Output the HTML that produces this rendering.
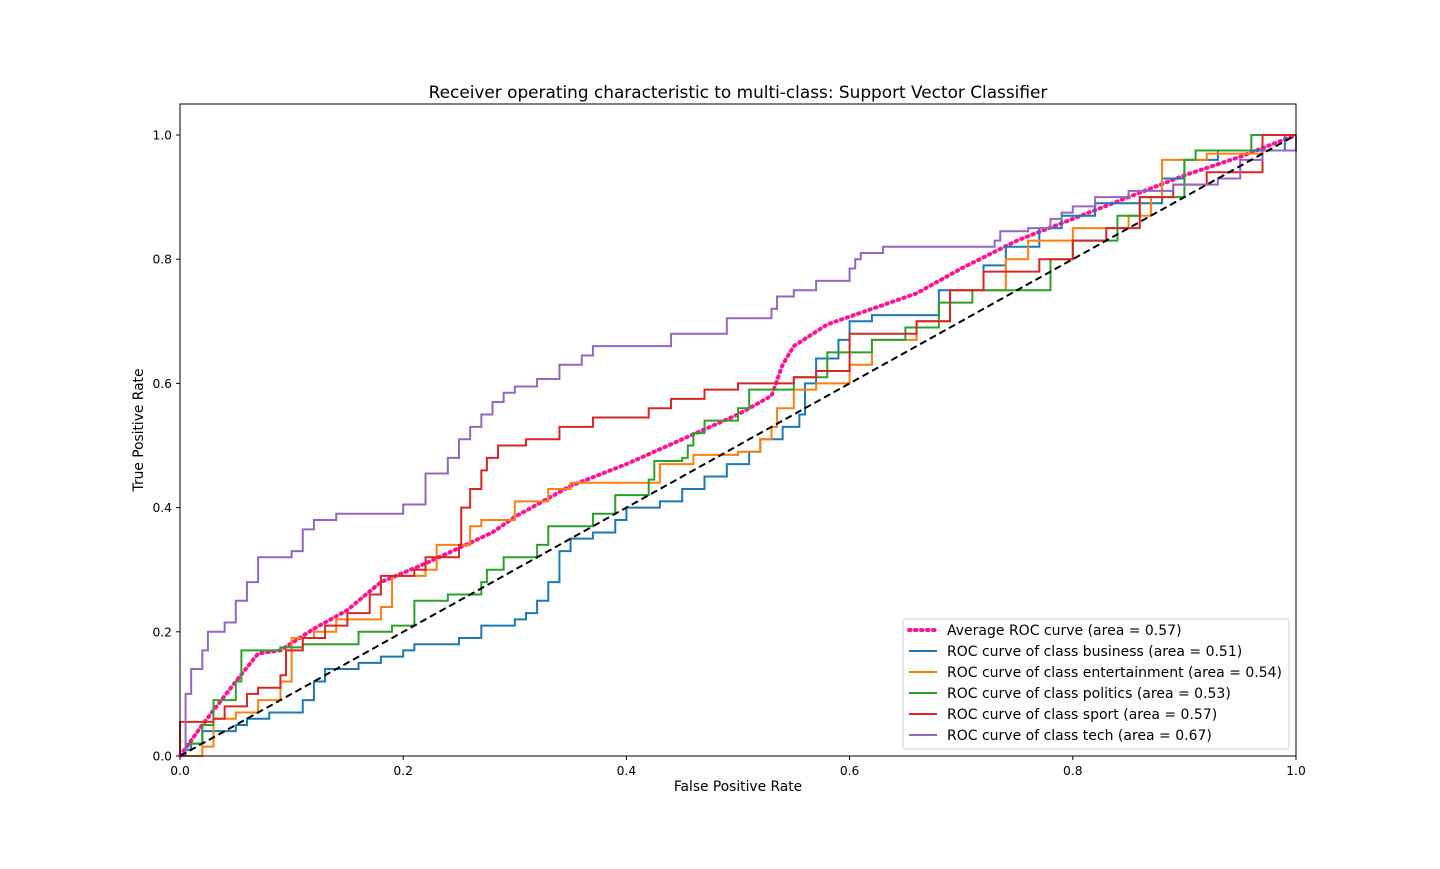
<!DOCTYPE html>
<html><head><meta charset="utf-8">
<style>
body{margin:0;background:#fff;}
svg text{font-family:"DejaVu Sans","Liberation Sans",sans-serif;}
</style></head>
<body>
<svg id="chart" width="1440" height="864" xmlns="http://www.w3.org/2000/svg">
<rect width="1440" height="864" fill="#fff"/>
<text x="738" y="98" font-size="16.9" text-anchor="middle">Receiver operating characteristic to multi-class: Support Vector Classifier</text>
<g id="axes"></g>
<g id="series"></g>
<rect x="180" y="104" width="1116" height="652" fill="none" stroke="#000" stroke-width="1"/>
<text x="738" y="791" font-size="13.8" text-anchor="middle">False Positive Rate</text>
<text x="143" y="430" font-size="13.8" text-anchor="middle" transform="rotate(-90 143 430)">True Positive Rate</text>
<g id="legend"></g>
</svg>
<script>
const xTicks=[0,0.2,0.4,0.6,0.8,1.0];
const yTicks=[0,0.2,0.4,0.6,0.8,1.0];
const names=["business","entertainment","politics","sport","tech"];
const aucs=["0.51","0.54","0.53","0.57","0.67"];
const avgAuc="0.57";
const colors=["#1f77b4","#ff7f0e","#2ca02c","#d62728","#9467bd"];
const businessX=[0,0.005,0.01,0.02,0.05,0.06,0.08,0.11,0.12,0.13,0.16,0.18,0.2,0.21,0.24,0.25,0.27,0.3,0.31,0.32,0.33,0.34,0.35,0.37,0.39,0.4,0.43,0.45,0.47,0.49,0.51,0.52,0.54,0.555,0.56,0.57,0.59,0.6,0.62,0.67,0.68,0.72,0.74,0.77,0.79,0.82,0.88,0.9,0.93,0.99,1];
const businessY=[0,0.01,0.02,0.04,0.05,0.06,0.07,0.09,0.12,0.14,0.15,0.16,0.17,0.18,0.18,0.19,0.21,0.22,0.23,0.25,0.28,0.33,0.35,0.36,0.38,0.4,0.41,0.43,0.45,0.47,0.49,0.51,0.53,0.55,0.6,0.64,0.67,0.7,0.71,0.71,0.75,0.79,0.82,0.85,0.87,0.89,0.93,0.96,0.975,1,1];
const entX=[0,0.02,0.03,0.05,0.07,0.09,0.1,0.12,0.14,0.18,0.19,0.22,0.23,0.26,0.27,0.3,0.33,0.35,0.41,0.43,0.46,0.5,0.52,0.53,0.535,0.55,0.57,0.6,0.62,0.66,0.69,0.74,0.76,0.8,0.85,0.87,0.88,0.92,0.97,1];
const entY=[0,0.015,0.06,0.07,0.09,0.12,0.19,0.2,0.22,0.24,0.29,0.3,0.34,0.37,0.38,0.41,0.43,0.44,0.44,0.47,0.485,0.49,0.51,0.53,0.56,0.59,0.6,0.63,0.67,0.7,0.75,0.8,0.83,0.85,0.87,0.9,0.96,0.97,1,1];
const polX=[0,0.005,0.02,0.03,0.05,0.055,0.09,0.11,0.16,0.19,0.21,0.24,0.27,0.275,0.29,0.32,0.33,0.37,0.39,0.42,0.425,0.45,0.455,0.46,0.47,0.5,0.51,0.55,0.58,0.62,0.65,0.68,0.71,0.78,0.8,0.84,0.86,0.9,0.91,0.96,1];
const polY=[0,0.02,0.05,0.09,0.12,0.17,0.175,0.18,0.2,0.21,0.25,0.26,0.28,0.3,0.32,0.34,0.37,0.39,0.42,0.445,0.475,0.48,0.5,0.52,0.54,0.56,0.59,0.61,0.65,0.67,0.69,0.73,0.75,0.8,0.83,0.87,0.9,0.96,0.975,1,1];
const sportX=[0,0,0.03,0.04,0.06,0.07,0.09,0.095,0.11,0.13,0.15,0.17,0.18,0.21,0.22,0.25,0.252,0.26,0.27,0.275,0.285,0.31,0.34,0.37,0.42,0.44,0.47,0.5,0.55,0.57,0.6,0.66,0.69,0.72,0.77,0.8,0.83,0.86,0.89,0.92,0.97,1];
const sportY=[0,0.055,0.06,0.08,0.1,0.11,0.13,0.17,0.19,0.21,0.23,0.26,0.29,0.3,0.32,0.34,0.4,0.43,0.46,0.48,0.5,0.51,0.53,0.545,0.56,0.575,0.59,0.6,0.61,0.62,0.68,0.7,0.75,0.78,0.8,0.83,0.85,0.9,0.92,0.94,1,1];
const techX=[0,0.005,0.01,0.02,0.025,0.04,0.05,0.06,0.07,0.1,0.11,0.12,0.14,0.18,0.2,0.22,0.24,0.25,0.26,0.27,0.28,0.29,0.3,0.32,0.34,0.36,0.37,0.41,0.44,0.49,0.53,0.535,0.55,0.57,0.6,0.605,0.61,0.63,0.72,0.73,0.735,0.76,0.78,0.79,0.8,0.82,0.85,0.89,0.93,0.95,0.97,1];
const techY=[0,0.1,0.14,0.17,0.2,0.215,0.25,0.28,0.32,0.33,0.365,0.38,0.39,0.39,0.405,0.455,0.48,0.51,0.53,0.55,0.57,0.585,0.595,0.607,0.63,0.645,0.66,0.66,0.68,0.705,0.72,0.74,0.75,0.765,0.785,0.8,0.81,0.82,0.82,0.83,0.845,0.85,0.865,0.875,0.885,0.9,0.91,0.92,0.93,0.96,0.975,1];
const avgX=[0,0.02,0.05,0.07,0.09,0.12,0.15,0.18,0.22,0.25,0.28,0.3,0.35,0.4,0.45,0.5,0.53,0.54,0.55,0.58,0.62,0.66,0.7,0.75,0.8,0.85,0.9,0.95,1];
const avgY=[0,0.05,0.12,0.165,0.17,0.205,0.235,0.28,0.31,0.335,0.36,0.385,0.435,0.47,0.51,0.55,0.58,0.63,0.66,0.695,0.72,0.745,0.785,0.83,0.865,0.9,0.935,0.965,1];
const seriesX=[businessX,entX,polX,sportX,techX];
const seriesY=[businessY,entY,polY,sportY,techY];

const NS="http://www.w3.org/2000/svg";
const sx=v=>180+v*1116;
const sy=v=>756-v*621;
function mk(tag,attrs,parent){const e=document.createElementNS(NS,tag);for(const k in attrs)e.setAttribute(k,attrs[k]);parent.appendChild(e);return e;}
const axes=document.getElementById('axes');
xTicks.forEach(t=>{
  const l=mk('line',{x1:sx(t),x2:sx(t),y1:756,y2:760,stroke:'#000'},axes);
  
  
  const tx=mk('text',{x:sx(t),y:775,'font-size':12.3,'text-anchor':'middle'},axes);
  tx.textContent=t.toFixed(1);
  
  
});
yTicks.forEach(t=>{
  const l=mk('line',{x1:176,x2:180,y1:sy(t),y2:sy(t),stroke:'#000'},axes);
  
  
  const tx=mk('text',{x:172,y:sy(t)+4.5,'font-size':12.3,'text-anchor':'end'},axes);
  tx.textContent=t.toFixed(1);
  
  
});
const g=document.getElementById('series');
let d='';
avgX.forEach((x,i)=>{d+=(i?'L':'M')+sx(x)+' '+sy(avgY[i]);});
const avg=mk('path',{d:d,fill:'none',stroke:'#ff1493','stroke-width':4,'stroke-dasharray':'1.5 4.5','stroke-linecap':'round'},g);


seriesX.forEach((xs,k)=>{
  const ys=seriesY[k];let p='M'+sx(xs[0])+' '+sy(ys[0]);
  for(let i=1;i<xs.length;i++){p+='L'+sx(xs[i])+' '+sy(ys[i-1])+'L'+sx(xs[i])+' '+sy(ys[i]);}
  const e=mk('path',{d:p,fill:'none',stroke:colors[k],'stroke-width':2},g);
  
  
});
const diag=mk('line',{x1:sx(0),y1:sy(0),x2:sx(1),y2:sy(1),stroke:'#000','stroke-width':2,'stroke-dasharray':'7 4'},g);


const lg=document.getElementById('legend');
mk('rect',{x:903,y:619,width:386,height:130,rx:3,fill:'#fff','fill-opacity':0.8,stroke:'#ccc'},lg);
const labels=['Average ROC curve (area = '+avgAuc+')'].concat(names.map((n,i)=>'ROC curve of class '+n+' (area = '+aucs[i]+')'));
labels.forEach((s,i)=>{
  const y=630+i*21;
  const ln=mk('line',{x1:909,x2:937,y1:y,y2:y,stroke:i?colors[i-1]:'#ff1493','stroke-width':i?2:4},lg);
  if(!i){ln.setAttribute('stroke-dasharray','1.5 4.5');ln.setAttribute('stroke-linecap','round');}
  
  
  const t=mk('text',{x:947,y:y+5,'font-size':14},lg);
  t.textContent=s;
  
  
});
</script>
</body></html>
